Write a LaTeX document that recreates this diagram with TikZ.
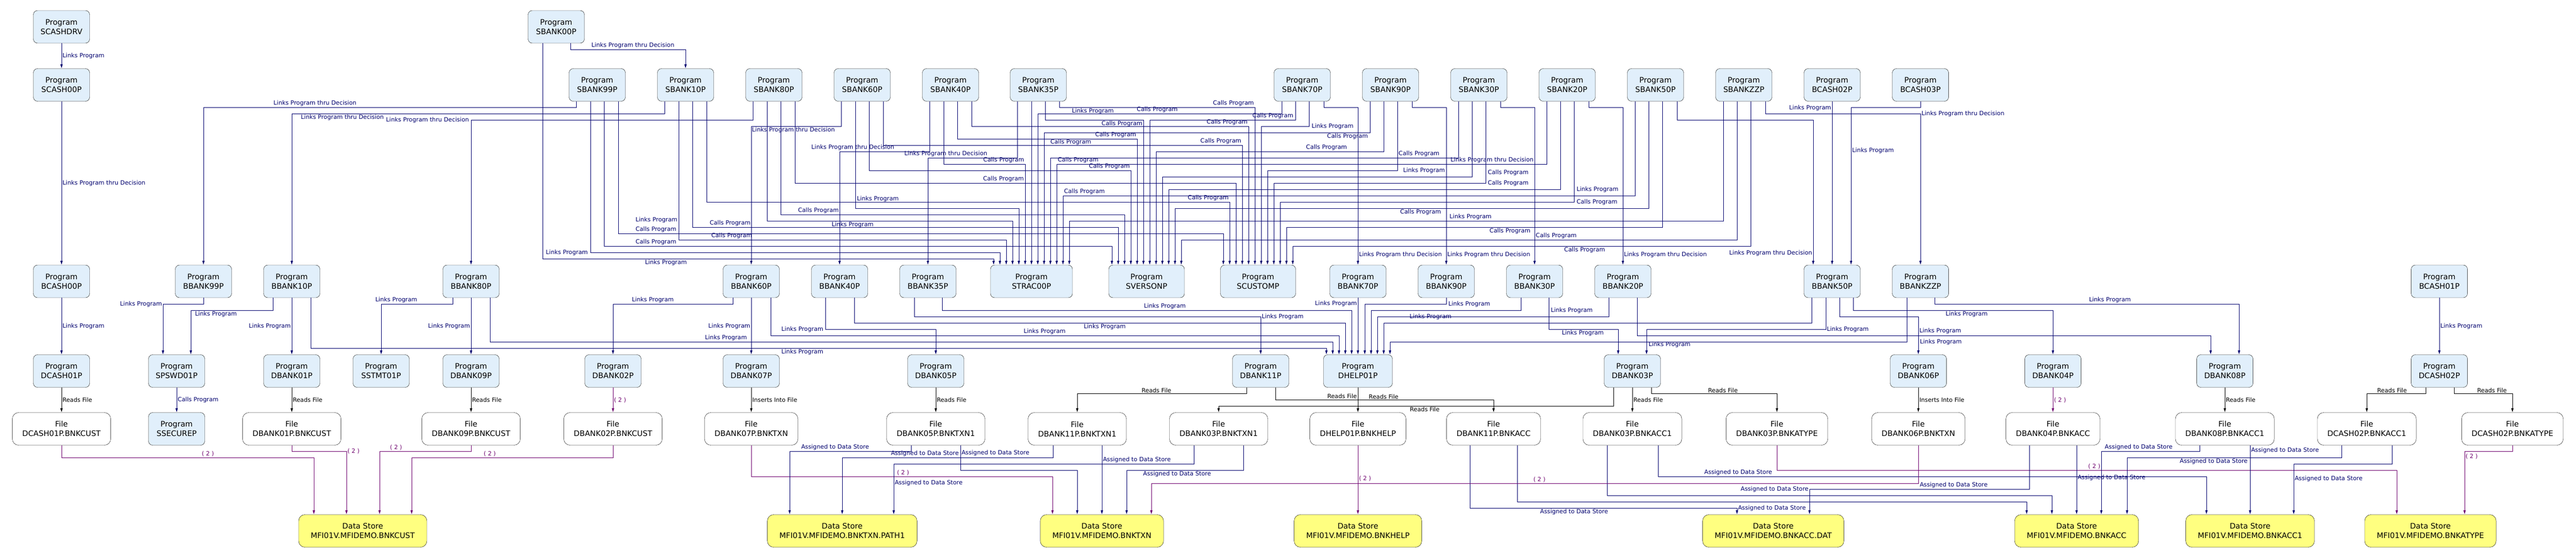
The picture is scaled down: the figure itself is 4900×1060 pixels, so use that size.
\documentclass[tikz,border=0pt]{standalone}
\usepackage{fontspec}
\setmainfont{DejaVu Sans}
\usetikzlibrary{arrows.meta}
\definecolor{progblue}{RGB}{225,239,251}
\definecolor{storeyellow}{RGB}{255,255,128}
\definecolor{linkblue}{RGB}{0,0,110}
\definecolor{countpurple}{RGB}{110,0,110}
\newcommand{\pgmfont}{\fontsize{14.5}{18}\selectfont}
\newcommand{\edgefont}{\fontsize{11.2}{13}\selectfont}

\begin{document}
\begin{tikzpicture}[x=1pt, y=-1pt,
    prog/.style={rectangle, draw, fill=progblue, rounded corners=8pt, minimum width=107pt, minimum height=62pt, align=center, font=\pgmfont, inner sep=2pt},
    file/.style={rectangle, draw, fill=white, rounded corners=12pt, minimum height=62pt, inner xsep=19pt, align=center, font=\pgmfont},
    store/.style={file, fill=storeyellow, inner xsep=23pt},
    link/.style={draw=linkblue, line width=1pt, -{Latex[length=8pt,width=5pt]}},
    reads/.style={link, draw=black},
    count/.style={link, draw=countpurple},
    lbl/.style={font=\edgefont, text=linkblue, inner sep=1.5pt},
    lblk/.style={lbl, text=black},
    lblp/.style={lbl, text=countpurple}
]
    \fill[white] (0,0) rectangle (4900,1060);
    \path[use as bounding box] (0,0) rectangle (4900,1060);

    % row 0
    \node[prog] (scashdrv) at (117,51) {Program\\SCASHDRV};
    \node[prog] (sbk00) at (1058,51) {Program\\SBANK00P};

    % row 1
    \node[prog] (scash00) at (117,161.5) {Program\\SCASH00P};
    \node[prog] (sbk99) at (1136,161.5) {Program\\SBANK99P};
    \node[prog] (sbk10) at (1304,161.5) {Program\\SBANK10P};
    \node[prog] (sbk80) at (1472,161.5) {Program\\SBANK80P};
    \node[prog] (sbk60) at (1640,161.5) {Program\\SBANK60P};
    \node[prog] (sbk40) at (1808,161.5) {Program\\SBANK40P};
    \node[prog] (sbk35) at (1975,161.5) {Program\\SBANK35P};
    \node[prog] (sbk70) at (2477,161.5) {Program\\SBANK70P};
    \node[prog] (sbk90) at (2645,161.5) {Program\\SBANK90P};
    \node[prog] (sbk30) at (2813,161.5) {Program\\SBANK30P};
    \node[prog] (sbk20) at (2981,161.5) {Program\\SBANK20P};
    \node[prog] (sbk50) at (3149,161.5) {Program\\SBANK50P};
    \node[prog] (sbkzz) at (3317,161.5) {Program\\SBANKZZP};
    \node[prog] (bcash02) at (3485,161.5) {Program\\BCASH02P};
    \node[prog] (bcash03) at (3653,161.5) {Program\\BCASH03P};

    % row 2
    \node[prog] (bcash00) at (117,535) {Program\\BCASH00P};
    \node[prog] (bbk99) at (387,535) {Program\\BBANK99P};
    \node[prog] (bbk10) at (555,535) {Program\\BBANK10P};
    \node[prog] (bbk80) at (896,535) {Program\\BBANK80P};
    \node[prog] (bbk60) at (1429,535) {Program\\BBANK60P};
    \node[prog] (bbk40) at (1597,535) {Program\\BBANK40P};
    \node[prog] (bbk35) at (1765,535) {Program\\BBANK35P};
    \node[prog, minimum width=156pt] (strac) at (1962,535) {Program\\STRAC00P};
    \node[prog, minimum width=144pt] (sverson) at (2181,535) {Program\\SVERSONP};
    \node[prog, minimum width=143pt] (scustom) at (2393,535) {Program\\SCUSTOMP};
    \node[prog] (bbk70) at (2583,535) {Program\\BBANK70P};
    \node[prog] (bbk90) at (2751,535) {Program\\BBANK90P};
    \node[prog] (bbk30) at (2919,535) {Program\\BBANK30P};
    \node[prog] (bbk20) at (3087,535) {Program\\BBANK20P};
    \node[prog] (bbk50) at (3485,535) {Program\\BBANK50P};
    \node[prog] (bbkzz) at (3653,535) {Program\\BBANKZZP};
    \node[prog] (bcash01) at (4640,535) {Program\\BCASH01P};

    % row 3
    \node[prog] (dcash01) at (117,705.5) {Program\\DCASH01P};
    \node[prog] (spswd01) at (336,705.5) {Program\\SPSWD01P};
    \node[prog] (dbk01) at (555,705.5) {Program\\DBANK01P};
    \node[prog] (sstmt01) at (725,705.5) {Program\\SSTMT01P};
    \node[prog] (dbk09) at (896,705.5) {Program\\DBANK09P};
    \node[prog] (dbk02) at (1166,705.5) {Program\\DBANK02P};
    \node[prog] (dbk07) at (1429,705.5) {Program\\DBANK07P};
    \node[prog] (dbk05) at (1780,705.5) {Program\\DBANK05P};
    \node[prog] (dbk11) at (2398,705.5) {Program\\DBANK11P};
    \node[prog, minimum width=131pt] (dhelp01) at (2583,705.5) {Program\\DHELP01P};
    \node[prog] (dbk03) at (3105,705.5) {Program\\DBANK03P};
    \node[prog] (dbk06) at (3649,705.5) {Program\\DBANK06P};
    \node[prog] (dbk04) at (3905,705.5) {Program\\DBANK04P};
    \node[prog] (dbk08) at (4232,705.5) {Program\\DBANK08P};
    \node[prog] (dcash02) at (4640,705.5) {Program\\DCASH02P};

    % row 4 - files
    \node[file] (fdcash01) at (117,815.5) {File\\DCASH01P.BNKCUST};
    \node[prog] (ssecure) at (336,815.5) {Program\\SSECUREP};
    \node[file] (fdbk01) at (555,815.5) {File\\DBANK01P.BNKCUST};
    \node[file] (fdbk09) at (896,815.5) {File\\DBANK09P.BNKCUST};
    \node[file] (fdbk02) at (1166,815.5) {File\\DBANK02P.BNKCUST};
    \node[file] (fdbk07) at (1429,815.5) {File\\DBANK07P.BNKTXN};
    \node[file] (fdbk05) at (1780,815.5) {File\\DBANK05P.BNKTXN1};
    \node[file] (fdbk11t) at (2049,815.5) {File\\DBANK11P.BNKTXN1};
    \node[file] (fdbk03t) at (2318,815.5) {File\\DBANK03P.BNKTXN1};
    \node[file] (fdhelp) at (2583,815.5) {File\\DHELP01P.BNKHELP};
    \node[file] (fdbk11a) at (2841,815.5) {File\\DBANK11P.BNKACC};
    \node[file] (fdbk03a) at (3105,815.5) {File\\DBANK03P.BNKACC1};
    \node[file] (fdbk03y) at (3380,815.5) {File\\DBANK03P.BNKATYPE};
    \node[file] (fdbk06) at (3649,815.5) {File\\DBANK06P.BNKTXN};
    \node[file] (fdbk04) at (3905,815.5) {File\\DBANK04P.BNKACC};
    \node[file] (fdbk08) at (4232,815.5) {File\\DBANK08P.BNKACC1};
    \node[file] (fdc2a) at (4502,815.5) {File\\DCASH02P.BNKACC1};
    \node[file] (fdc2y) at (4779,815.5) {File\\DCASH02P.BNKATYPE};

    % row 5 - data stores
    \node[store] (dscust) at (690,1009.5) {Data Store\\MFI01V.MFIDEMO.BNKCUST};
    \node[store] (dspath) at (1602,1009.5) {Data Store\\MFI01V.MFIDEMO.BNKTXN.PATH1};
    \node[store] (dstxn) at (2096,1009.5) {Data Store\\MFI01V.MFIDEMO.BNKTXN};
    \node[store] (dshelp) at (2583,1009.5) {Data Store\\MFI01V.MFIDEMO.BNKHELP};
    \node[store] (dsaccdat) at (3373,1009.5) {Data Store\\MFI01V.MFIDEMO.BNKACC.DAT};
    \node[store] (dsacc) at (3950,1009.5) {Data Store\\MFI01V.MFIDEMO.BNKACC};
    \node[store] (dsacc1) at (4280,1009.5) {Data Store\\MFI01V.MFIDEMO.BNKACC1};
    \node[store] (dsatype) at (4623,1009.5) {Data Store\\MFI01V.MFIDEMO.BNKATYPE};

    % cash driver
    \draw[link] (scashdrv) -- node[lbl, right] {Links Program} (scash00);
    \draw[link] (scash00) -- node[lbl, right] {Links Program thru Decision} (bcash00);

    % SBANK00P
    \draw[link] ([xshift=27pt]sbk00.south) -- ++(0,12) node[lbl, anchor=south west, xshift=38pt] {Links Program thru Decision} -| (sbk10.north);
    \draw[link] ([xshift=-26pt]sbk00.south) -- ++(0,410) node[lbl, anchor=north west, xshift=193pt] {Links Program} -| ([xshift=-72pt]strac.north);

    % SBANK99P
    \draw[link] ([xshift=-40pt]sbk99.south) -- ++(0,11.5) node[lbl, anchor=south east, xshift=-416pt] {Links Program thru Decision} -| (bbk99.north);
    \draw[link] ([xshift=-13pt]sbk99.south) -- ++(0,287.5) node[lbl, anchor=east, xshift=-3pt] {Links Program} -| ([xshift=-60pt]strac.north);
    \draw[link] ([xshift=13pt]sbk99.south) -- ++(0,275.5) node[lbl, anchor=south west, xshift=58pt] {Calls Program} -| ([xshift=-66pt]sverson.north);
    \draw[link] ([xshift=40pt]sbk99.south) -- ++(0,251.5) node[lbl, anchor=south west, xshift=31pt] {Calls Program} node[lbl, anchor=south west, xshift=31pt, yshift=18pt] {Links Program} -| ([xshift=-66pt]scustom.north);

    % SBANK10P
    \draw[link] ([xshift=-40pt]sbk10.south) -- ++(0,23.5) node[lbl, anchor=north east, xshift=-532pt] {Links Program thru Decision} -| (bbk10.north);
    \draw[link] ([xshift=-13pt]sbk10.south) -- ++(0,263.5) node[lbl, anchor=south west, xshift=60pt] {Calls Program} -| ([xshift=-48pt]strac.north);
    \draw[link] ([xshift=13pt]sbk10.south) -- ++(0,239.5) node[lbl, anchor=south west, xshift=31pt] {Calls Program} -| ([xshift=-54pt]sverson.north);
    \draw[link] ([xshift=40pt]sbk10.south) -- ++(0,191.5) -| node[lbl, pos=.5, anchor=south east] {Calls Program} ([xshift=-54pt]scustom.north);

    % SBANK80P
    \draw[link] ([xshift=-40pt]sbk80.south) -- ++(0,35.5) node[lbl, anchor=east, xshift=-538pt] {Links Program thru Decision} -| (bbk80.north);
    \draw[link] ([xshift=-13pt]sbk80.south) -- ++(0,227.5) node[lbl, anchor=north west, xshift=121pt] {Links Program} -| ([xshift=-36pt]strac.north);
    \draw[link] ([xshift=13pt]sbk80.south) -- ++(0,215.5) node[lbl, anchor=south west, xshift=31pt] {Calls Program} -| ([xshift=-42pt]sverson.north);
    \draw[link] ([xshift=40pt]sbk80.south) -- ++(0,155.5) node[lbl, anchor=south west, xshift=356pt] {Calls Program} -| ([xshift=-42pt]scustom.north);

    % SBANK60P
    \draw[link] ([xshift=-40pt]sbk60.south) -- ++(0,47.5) node[lbl, anchor=north east, xshift=-10pt] {Links Program thru Decision} -| (bbk60.north);
    \draw[link] ([xshift=-13pt]sbk60.south) -- ++(0,203.5) node[lbl, anchor=south west, xshift=1pt, yshift=10pt] {Links Program} -| ([xshift=-24pt]strac.north);
    \draw[link] ([xshift=13pt]sbk60.south) -- ++(0,131.5) -| node[lbl, pos=.5, anchor=south east] {Calls Program} ([xshift=-30pt]sverson.north);
    \draw[link] ([xshift=40pt]sbk60.south) -- ++(0,83.5) -| node[lbl, pos=.5, anchor=south east] {Calls Program} ([xshift=-30pt]scustom.north);

    % SBANK40P
    \draw[link] ([xshift=-40pt]sbk40.south) -- ++(0,95.5) node[lbl, anchor=south east, xshift=-65pt] {Links Program thru Decision} -| (bbk40.north);
    \draw[link] ([xshift=-13pt]sbk40.south) -- ++(0,119.5) -| node[lbl, pos=.5, anchor=south east] {Calls Program} ([xshift=-12pt]strac.north);
    \draw[link] ([xshift=13pt]sbk40.south) -- ++(0,71.5) -| node[lbl, pos=.5, anchor=south east] {Calls Program} ([xshift=-18pt]sverson.north);
    \draw[link] ([xshift=40pt]sbk40.south) -- ++(0,47.5) -| node[lbl, pos=.5, anchor=south east] {Calls Program} ([xshift=-18pt]scustom.north);

    % SBANK35P
    \draw[link] ([xshift=-40pt]sbk35.south) -- ++(0,107.5) node[lbl, anchor=south east, xshift=-55pt] {Links Program thru Decision} -| (bbk35.north);
    \draw[link] ([xshift=-13pt]sbk35.south) -- node[lbl, pos=.25, anchor=west, xshift=34pt] {Calls Program} (strac.north);
    \draw[link] ([xshift=13pt]sbk35.south) -- ++(0,35.5) -| node[lbl, pos=.5, anchor=north east] {Calls Program} ([xshift=-6pt]sverson.north);
    \draw[link] ([xshift=40pt]sbk35.south) -- ++(0,11.5) node[lbl, anchor=north west, xshift=22pt] {Links Program} -| node[lbl, pos=.5, anchor=south east] {Calls Program} ([xshift=-6pt]scustom.north);

    % SBANK70P
    \draw[link] ([xshift=41pt]sbk70.south) -- ++(0,11.5) -| node[lbl, pos=.967, anchor=west] {Links Program thru Decision} (bbk70.north);
    \draw[link] ([xshift=-39pt]sbk70.south) -- ++(0,23.5) node[lbl, anchor=south east, xshift=-196pt] {Calls Program} -| ([xshift=12pt]strac.north);
    \draw[link] ([xshift=-13pt]sbk70.south) -- ++(0,35.5) node[lbl, anchor=south east, xshift=-2pt] {Calls Program} -| ([xshift=6pt]sverson.north);
    \draw[link] ([xshift=13pt]sbk70.south) -- ++(0,47.5) node[lbl, anchor=west, xshift=3pt] {Links Program} -| ([xshift=6pt]scustom.north);

    % SBANK90P
    \draw[link] ([xshift=41pt]sbk90.south) -- ++(0,11.5) -| node[lbl, pos=.967, anchor=west] {Links Program thru Decision} (bbk90.north);
    \draw[link] ([xshift=-39pt]sbk90.south) -- ++(0,59.5) node[lbl, anchor=north east, xshift=-2pt] {Calls Program} -| ([xshift=24pt]strac.north);
    \draw[link] ([xshift=-13pt]sbk90.south) -- ++(0,95.5) node[lbl, anchor=south east, xshift=-68pt] {Calls Program} -| ([xshift=18pt]sverson.north);
    \draw[link] ([xshift=13pt]sbk90.south) -- ++(0,131.5) node[lbl, anchor=west, xshift=9pt] {Links Program} -| ([xshift=18pt]scustom.north);

    % SBANK30P
    \draw[link] ([xshift=41pt]sbk30.south) -- ++(0,11.5) -| node[lbl, pos=.667, anchor=east] {Links Program thru Decision} (bbk30.north);
    \draw[link] ([xshift=-39pt]sbk30.south) -- ++(0,107.5) node[lbl, anchor=south east, xshift=-34pt] {Calls Program} -| ([xshift=36pt]strac.north);
    \draw[link] ([xshift=-13pt]sbk30.south) -- ++(0,143.5) node[lbl, anchor=south west, xshift=28pt] {Calls Program} -| ([xshift=30pt]sverson.north);
    \draw[link] ([xshift=13pt]sbk30.south) -- ++(0,155.5) node[lbl, anchor=west, xshift=2pt] {Calls Program} -| ([xshift=30pt]scustom.north);

    % SBANK20P
    \draw[link] ([xshift=41pt]sbk20.south) -- ++(0,11.5) -| node[lbl, pos=.967, anchor=west] {Links Program thru Decision} (bbk20.north);
    \draw[link] ([xshift=-39pt]sbk20.south) -- ++(0,119.5) -| node[lbl, pos=.5, anchor=south west] {Calls Program} ([xshift=48pt]strac.north);
    \draw[link] ([xshift=-13pt]sbk20.south) -- ++(0,167.5) node[lbl, anchor=west, xshift=29pt] {Links Program} -| ([xshift=42pt]sverson.north);
    \draw[link] ([xshift=13pt]sbk20.south) -- ++(0,191.5) node[lbl, anchor=west, xshift=3pt] {Calls Program} -| ([xshift=42pt]scustom.north);

    % SBANK50P
    \draw[link] ([xshift=41pt]sbk50.south) -- ++(0,35.5) -| node[lbl, pos=.96, anchor=east] {Links Program thru Decision} ([xshift=-36pt]bbk50.north);
    \draw[link] ([xshift=-39pt]sbk50.south) -- ++(0,179.5) -| node[lbl, pos=.5, anchor=south west] {Calls Program} ([xshift=60pt]strac.north);
    \draw[link] ([xshift=-13pt]sbk50.south) -- ++(0,203.5) node[lbl, anchor=north east, xshift=-393pt] {Calls Program} -| ([xshift=54pt]sverson.north);
    \draw[link] ([xshift=13pt]sbk50.south) -- ++(0,239.5) node[lbl, anchor=north east, xshift=-249pt] {Calls Program} -| ([xshift=54pt]scustom.north);

    % SBANKZZP
    \draw[link] ([xshift=41pt]sbkzz.south) -- ++(0,23.5) -| node[lbl, pos=.5, anchor=west] {Links Program thru Decision} (bbkzz.north);
    \draw[link] ([xshift=-39pt]sbkzz.south) -- ++(0,227.5) node[lbl, anchor=south east, xshift=-439pt] {Links Program} -| ([xshift=72pt]strac.north);
    \draw[link] ([xshift=-13pt]sbkzz.south) -- ++(0,263.5) node[lbl, anchor=south east, xshift=-303pt] {Calls Program} -| ([xshift=66pt]sverson.north);
    \draw[link] ([xshift=13pt]sbkzz.south) -- ++(0,275.5) node[lbl, anchor=north east, xshift=-275pt] {Calls Program} -| ([xshift=66pt]scustom.north);

    % cash programs into BBANK50P
    \draw[link] (bcash02) -- node[lbl, pos=.04, anchor=east] {Links Program} (bbk50);
    \draw[link] (bcash03.south) -- ++(0,11.5) -| node[lbl, pos=.637, anchor=west] {Links Program} ([xshift=36pt]bbk50.north);

    % B programs to D programs
    \draw[link] (bcash00) -- node[lbl, right] {Links Program} (dcash01);
    \draw[link] (bbk99.south) -- ++(0,12) -| node[lbl, pos=.5, anchor=east] {Links Program} ([xshift=-26pt]spswd01.north);
    \draw[link] ([xshift=-36pt]bbk10.south) -- ++(0,24) -| node[lbl, pos=.5, anchor=north west, xshift=6pt] {Links Program} ([xshift=27pt]spswd01.north);
    \draw[link] (bbk10) -- node[lbl, left] {Links Program} (dbk01);
    \draw[link] ([xshift=36pt]bbk10.south) -- ++(0,96) -| node[lbl, pos=.242, anchor=north] {Links Program} ([xshift=-60pt]dhelp01.north);
    \draw[link] ([xshift=-35pt]bbk80.south) -- ++(0,12) -| node[lbl, pos=.5, anchor=south west, xshift=-13pt] {Links Program} (sstmt01.north);
    \draw[link] (bbk80) -- node[lbl, left] {Links Program} (dbk09);
    \draw[link] ([xshift=36pt]bbk80.south) -- ++(0,84) -| node[lbl, pos=.140, anchor=south] {Links Program} ([xshift=-48pt]dhelp01.north);
    \draw[link] ([xshift=-35pt]bbk60.south) -- ++(0,12) -| node[lbl, pos=.5, anchor=south west, xshift=34pt] {Links Program} (dbk02.north);
    \draw[link] (bbk60) -- node[lbl, left] {Links Program} (dbk07);
    \draw[link] ([xshift=37pt]bbk60.south) -- ++(0,72) -| node[lbl, pos=.241, anchor=south] {Links Program} ([xshift=-36pt]dhelp01.north);
    \draw[link] ([xshift=-27pt]bbk40.south) -- ++(0,60) node[lbl, anchor=east, xshift=-2pt] {Links Program} -| (dbk05.north);
    \draw[link] ([xshift=28pt]bbk40.south) -- ++(0,48) -| node[lbl, pos=.255, anchor=north] {Links Program} ([xshift=-24pt]dhelp01.north);
    \draw[link] ([xshift=-26pt]bbk35.south) -- ++(0,36) -| node[lbl, pos=.5, anchor=west] {Links Program} (dbk11.north);
    \draw[link] ([xshift=27pt]bbk35.south) -- ++(0,24) -| node[lbl, pos=.272, anchor=south] {Links Program} ([xshift=-12pt]dhelp01.north);
    \draw[link] (bbk70) -- node[lbl, pos=.1, anchor=east] {Links Program} (dhelp01);
    \draw[link] (bbk90.south) -- ++(0,12) node[lbl, anchor=west, xshift=2pt] {Links Program} -| ([xshift=13pt]dhelp01.north);
    \draw[link] ([xshift=-26pt]bbk30.south) -- ++(0,24) node[lbl, anchor=west, xshift=55pt] {Links Program} -| ([xshift=25pt]dhelp01.north);
    \draw[link] ([xshift=27pt]bbk30.south) -- ++(0,60) node[lbl, anchor=north west, xshift=23pt] {Links Program} -| ([xshift=-27pt]dbk03.north);
    \draw[link] ([xshift=-27pt]bbk20.south) -- ++(0,36) -| node[lbl, pos=.385] {Links Program} ([xshift=37pt]dhelp01.north);
    \draw[link] ([xshift=27pt]bbk20.south) -- ++(0,72) node[lbl, anchor=north west, xshift=20pt, yshift=-10pt] {Links Program} -| ([xshift=-27pt]dbk08.north);
    \draw[link] ([xshift=-39pt]bbk50.south) -- ++(0,48) -| ([xshift=49pt]dhelp01.north);
    \draw[link] ([xshift=-12pt]bbk50.south) -- ++(0,60) node[lbl, anchor=west] {Links Program} -| ([xshift=27pt]dbk03.north);
    \draw[link] ([xshift=14pt]bbk50.south) -- ++(0,36) -| node[lbl, pos=.686, anchor=west] {Links Program} (dbk06.north);
    \draw[link] ([xshift=40pt]bbk50.south) -- ++(0,24) -| node[lbl, pos=.284, anchor=north] {Links Program} (dbk04.north);
    \draw[link] ([xshift=-26pt]bbkzz.south) -- ++(0,84) node[lbl, anchor=west, xshift=23pt] {Links Program} -| ([xshift=61pt]dhelp01.north);
    \draw[link] ([xshift=27pt]bbkzz.south) -- ++(0,12) -| node[lbl, pos=.288, anchor=south] {Links Program} ([xshift=27pt]dbk08.north);
    \draw[link] (bcash01) -- node[lbl, right] {Links Program} (dcash02);

    % D programs to files
    \draw[reads] (dcash01) -- node[lblk, right] {Reads File} (fdcash01);
    \draw[link] (spswd01) -- node[lbl, right] {Calls Program} (ssecure);
    \draw[reads] (dbk01) -- node[lblk, right] {Reads File} (fdbk01);
    \draw[reads] (dbk09) -- node[lblk, right] {Reads File} (fdbk09);
    \draw[count] (dbk02) -- node[lblp, right] {( 2 )} (fdbk02);
    \draw[reads] (dbk07) -- node[lblk, right] {Inserts Into File} (fdbk07);
    \draw[reads] (dbk05) -- node[lblk, right] {Reads File} (fdbk05);
    \draw[reads] ([xshift=-27pt]dbk11.south) -- ++(0,11.5) -| node[lblk, pos=.266, anchor=south] {Reads File} (fdbk11t.north);
    \draw[reads] ([xshift=28pt]dbk11.south) -- ++(0,23.5) -| node[lblk, pos=.248, anchor=south] {Reads File} (fdbk11a.north);
    \draw[reads] (dhelp01) -- node[lblk, pos=.34, anchor=east] {Reads File} (fdhelp);
    \draw[reads] ([xshift=-36pt]dbk03.south) -- ++(0,35.5) -| node[lblk, pos=.239, anchor=north] {Reads File} (fdbk03t.north);
    \draw[reads] (dbk03) -- node[lblk, right] {Reads File} (fdbk03a);
    \draw[reads] ([xshift=36pt]dbk03.south) -- ++(0,11.5) -| node[lblk, pos=.285, anchor=south] {Reads File} (fdbk03y.north);
    \draw[reads] (dbk06) -- node[lblk, right] {Inserts Into File} (fdbk06);
    \draw[count] (dbk04) -- node[lblp, right] {( 2 )} (fdbk04);
    \draw[reads] (dbk08) -- node[lblk, right] {Reads File} (fdbk08);
    \draw[reads] ([xshift=-26pt]dcash02.south) -- ++(0,11.5) -| node[lblk, pos=.286, anchor=south] {Reads File} (fdc2a.north);
    \draw[reads] ([xshift=28pt]dcash02.south) -- ++(0,11.5) -| node[lblk, pos=.325, anchor=south] {Reads File} (fdc2y.north);

    % files to data stores
    \draw[count] (fdcash01.south) -- ++(0,23.5) -| node[lblp, pos=.29, anchor=south] {( 2 )} ([xshift=-93pt]dscust.north);
    \draw[count] (fdbk01.south) -- ++(0,11.5) -| node[lblp, pos=.5, anchor=west] {( 2 )} ([xshift=-31pt]dscust.north);
    \draw[count] (fdbk09.south) -- ++(0,11.5) -| node[lblp, pos=.41, anchor=south] {( 2 )} ([xshift=32pt]dscust.north);
    \draw[count] (fdbk02.south) -- ++(0,23.5) -| node[lblp, pos=.306, anchor=south] {( 2 )} ([xshift=93pt]dscust.north);
    \draw[count] (fdbk07.south) -- ++(0,59.5) -| node[lblp, pos=.252, anchor=south] {( 2 )} ([xshift=-94pt]dstxn.north);
    \draw[link] ([xshift=-47pt]fdbk05.south) -- ++(0,11.5) -| node[lbl, pos=.5, anchor=south west, xshift=20pt] {Assigned to Data Store} ([xshift=-100pt]dspath.north);
    \draw[link] ([xshift=47pt]fdbk05.south) -- node[lbl, pos=.3, anchor=west] {Assigned to Data Store} ++(0,47.5) -| ([xshift=-47pt]dstxn.north);
    \draw[link] ([xshift=-46pt]fdbk11t.south) -- ++(0,23.5) -| node[lbl, pos=.304, anchor=south] {Assigned to Data Store} (dspath.north);
    \draw[link] ([xshift=47pt]fdbk11t.south) -- node[lbl, pos=.21, anchor=west] {Assigned to Data Store} (dstxn.north);
    \draw[link] ([xshift=-47pt]fdbk03t.south) -- ++(0,35.5) -| node[lbl, pos=.69, anchor=west] {Assigned to Data Store} ([xshift=98pt]dspath.north);
    \draw[link] ([xshift=47pt]fdbk03t.south) -- ++(0,47.5) -| node[lbl, pos=.284, anchor=north] {Assigned to Data Store} ([xshift=47pt]dstxn.north);
    \draw[count] (fdhelp) -- node[lblp, pos=.48, anchor=west] {( 2 )} (dshelp);
    \draw[link] ([xshift=-45pt]fdbk11a.south) -- ++(0,119.5) -| node[lbl, pos=.195, anchor=north] {Assigned to Data Store} node[lbl, pos=.5, anchor=west] {Assigned to Data Store} ([xshift=-69pt]dsaccdat.north);
    \draw[link] ([xshift=45pt]fdbk11a.south) -- ++(0,107.5) -| ([xshift=-95pt]dsacc.north);
    \draw[link] ([xshift=-48pt]fdbk03a.south) -- ++(0,95.5) -| ([xshift=-47pt]dsacc.north);
    \draw[link] ([xshift=49pt]fdbk03a.south) -- ++(0,59.5) -| node[lbl, pos=.073, anchor=south] {Assigned to Data Store} ([xshift=-83pt]dsacc1.north);
    \draw[count] (fdbk03y.south) -- ++(0,47.5) -| node[lblp, pos=.256, anchor=south] {( 2 )} ([xshift=-64pt]dsatype.north);
    \draw[count] (fdbk06.south) -- ++(0,72.5) -| node[lblp, pos=.247, anchor=south] {( 2 )} ([xshift=94pt]dstxn.north);
    \draw[link] ([xshift=-45pt]fdbk04.south) -- ++(0,83.5) -| node[lbl, pos=.172, anchor=south] {Assigned to Data Store} node[lbl, pos=.5, anchor=east] {Assigned to Data Store} ([xshift=69pt]dsaccdat.north);
    \draw[link] ([xshift=45pt]fdbk04.south) -- node[lbl, pos=.47, anchor=west] {Assigned to Data Store} (dsacc.north);
    \draw[link] ([xshift=-48pt]fdbk08.south) -- ++(0,11.5) -| node[lbl, pos=.31, anchor=south] {Assigned to Data Store} ([xshift=47pt]dsacc.north);
    \draw[link] ([xshift=48pt]fdbk08.south) -- node[lbl, pos=.07, anchor=west] {Assigned to Data Store} (dsacc1.north);
    \draw[link] ([xshift=-48pt]fdc2a.south) -- ++(0,23.5) -| node[lbl, pos=.298, anchor=north] {Assigned to Data Store} ([xshift=96pt]dsacc.north);
    \draw[link] ([xshift=48pt]fdc2a.south) -- ++(0,35.5) -| node[lbl, pos=.645, anchor=west] {Assigned to Data Store} ([xshift=83pt]dsacc1.north);
    \draw[count] (fdc2y.south) -- ++(0,11.5) -| node[lblp, pos=.54, anchor=west] {( 2 )} ([xshift=65pt]dsatype.north);
\end{tikzpicture}
\end{document}
